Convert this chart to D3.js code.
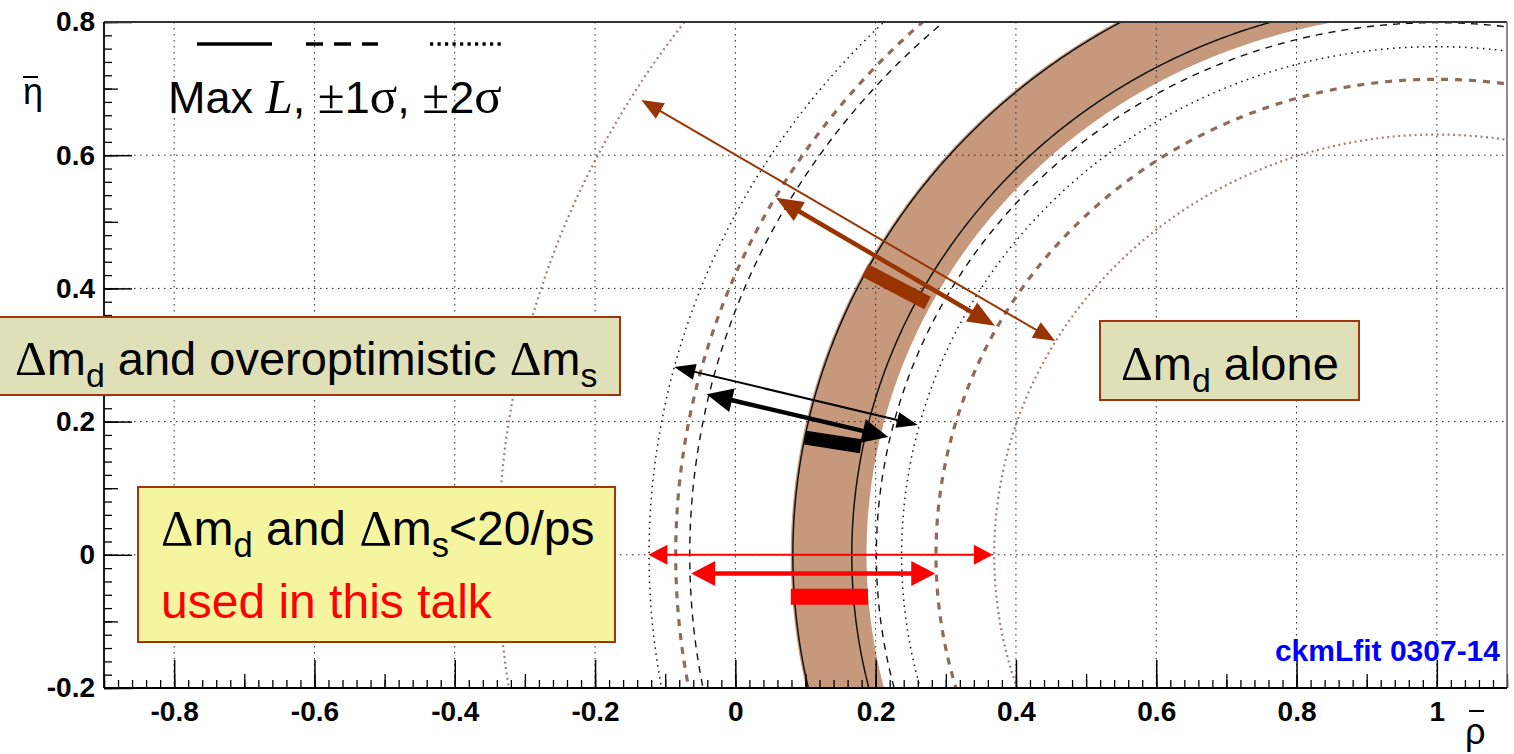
<!DOCTYPE html>
<html>
<head>
<meta charset="utf-8">
<script src="https://cdn.jsdelivr.net/npm/d3@7"></script>
<style>
  html, body { margin: 0; padding: 0; background: #fff; }
  svg { display: block; }
  text { font-family: "Liberation Sans", Arial, Helvetica, sans-serif; }
</style>
</head>
<body>
<svg id="chart" width="1514" height="754"></svg>
<script>
// ---- axis ticks -----------------------------------------------------------
const xMajor = [-0.8, -0.6, -0.4, -0.2, 0, 0.2, 0.4, 0.6, 0.8, 1.0];
const xTickLabels = ["-0.8", "-0.6", "-0.4", "-0.2", "0", "0.2", "0.4", "0.6", "0.8", "1"];
const yMajor = [-0.2, 0, 0.2, 0.4, 0.6, 0.8];
const yTickLabels = ["-0.2", "0", "0.2", "0.4", "0.6", "0.8"];

// ---- |Vtd| contours: radii of circles centred on (rho, eta) = (1, 0) -------
const contourCentre = [1, 0];
const dmdAloneDashed = [0.714, 1.085];   // Δm_d alone, ±1σ
const dmdAloneDotted = [0.631, 1.338];   // Δm_d alone, ±2σ
const overoptSolid   = [0.834, 0.918];   // Δm_d + overoptimistic Δm_s
const overoptDashed  = [0.799, 1.065];
const overoptDotted  = [0.763, 1.123];
const bandRadii      = [0.813, 0.921];   // shaded band

// ---- double arrows and bars, [[rho, eta], [rho, eta]] --------------------
const brownSpans = [
  [[-0.134, 0.683], [0.456, 0.321]],     // ±2σ
  [[0.058, 0.536], [0.370, 0.344]]       // ±1σ
];
const brownBar = [[0.185, 0.427], [0.274, 0.378]];
const blackSpans = [
  [[-0.087, 0.282], [0.260, 0.195]],
  [[-0.041, 0.241], [0.218, 0.177]]
];
const blackBar = [[0.0996, 0.176], [0.179, 0.163]];
const redSpans = [
  [[-0.124, 0.0], [0.367, 0.0]],
  [[-0.063, -0.028], [0.285, -0.028]]
];
const redBar = [[0.079, -0.063], [0.189, -0.063]];

// ---- layout ---------------------------------------------------------------
const svg = d3.select("#chart");
const L = 104, R = 1507, T = 22, B = 688;
const x = d3.scaleLinear([-0.9, 1.1], [L, R]);
const y = d3.scaleLinear([-0.2, 0.8], [B, T]);
const serif = "'Liberation Serif', 'Times New Roman', serif";

svg.append("rect").attr("width", 1514).attr("height", 754).attr("fill", "#fff");

svg.append("clipPath").attr("id", "plotClip")
  .append("rect").attr("x", L).attr("y", T).attr("width", R - L).attr("height", B - T);

const plot = svg.append("g").attr("clip-path", "url(#plotClip)");

// points along a circle of radius r around the contour centre
function circlePoints(r, reverse) {
  const angles = d3.range(-0.35, Math.PI + 0.0001, 0.004);
  const pts = angles.map(a => [contourCentre[0] - r * Math.cos(a), contourCentre[1] + r * Math.sin(a)]);
  return reverse ? pts.reverse() : pts;
}
const line = d3.line().x(d => x(d[0])).y(d => y(d[1]));

// shaded band
plot.append("path")
  .attr("d", line(circlePoints(bandRadii[1], false)) + "L" +
             line(circlePoints(bandRadii[0], true)).slice(1) + "Z")
  .attr("fill", "#c6997d");

// grid
const gridG = plot.append("g").attr("stroke", "#222").attr("stroke-width", 1)
  .attr("stroke-dasharray", "1.5,4.5");
gridG.selectAll("line.v").data(xMajor).join("line").attr("class", "v")
  .attr("x1", d => x(d)).attr("x2", d => x(d)).attr("y1", T).attr("y2", B);
gridG.selectAll("line.h").data(yMajor).join("line").attr("class", "h")
  .attr("x1", L).attr("x2", R).attr("y1", d => y(d)).attr("y2", d => y(d));

// contour lines
function drawContours(radii, stroke, width, dash) {
  plot.append("g").selectAll("path").data(radii).join("path")
    .attr("d", r => line(circlePoints(r, false)))
    .attr("fill", "none")
    .attr("stroke", stroke)
    .attr("stroke-width", width)
    .attr("stroke-dasharray", dash);
}
drawContours(dmdAloneDotted, "#a4806f", 2.2, "2,3.5");
drawContours(dmdAloneDashed, "#8e6b5b", 3.2, "7,7");
drawContours(overoptDotted, "#111", 1.5, "1.5,4.5");
drawContours(overoptDashed, "#111", 1.4, "7,6");
drawContours(overoptSolid, "#111", 1.5, null);

// ---- axes -----------------------------------------------------------------
const axisFont = "bold 28px 'Liberation Sans', Arial, sans-serif";
const xMinor = d3.range(-0.9, 1.1001, 0.02).map(v => +v.toFixed(2));
const xMid = d3.range(-0.9, 1.1001, 0.1).map(v => +v.toFixed(2));
const yMinor = d3.range(-0.2, 0.8001, 0.02).map(v => +v.toFixed(2));
const yMid = d3.range(-0.2, 0.8001, 0.1).map(v => +v.toFixed(2));

function tickAxis(axisFn, scale, values, size, translate) {
  svg.append("g").attr("transform", translate)
    .call(axisFn(scale).tickValues(values).tickSize(-size).tickFormat(""))
    .call(g => g.select(".domain").remove())
    .selectAll("line").attr("stroke", "#000").attr("stroke-width", 1.3);
}
tickAxis(d3.axisBottom, x, xMinor, 8, `translate(0,${B})`);
tickAxis(d3.axisBottom, x, xMid, 14, `translate(0,${B})`);
tickAxis(d3.axisLeft, y, yMinor, 8, `translate(${L},0)`);
tickAxis(d3.axisLeft, y, yMid, 14, `translate(${L},0)`);

const xAxis = svg.append("g").attr("transform", `translate(0,${B})`)
  .call(d3.axisBottom(x).tickValues(xMajor).tickSize(-28).tickPadding(13)
    .tickFormat((d, i) => xTickLabels[i]));
xAxis.select(".domain").remove();
xAxis.selectAll("line").attr("stroke", "#000").attr("stroke-width", 1.5);
xAxis.selectAll("text").style("font", axisFont).attr("fill", "#000");

const yAxis = svg.append("g").attr("transform", `translate(${L},0)`)
  .call(d3.axisLeft(y).tickValues(yMajor).tickSize(-28).tickPadding(9)
    .tickFormat((d, i) => yTickLabels[i]));
yAxis.select(".domain").remove();
yAxis.selectAll("line").attr("stroke", "#000").attr("stroke-width", 1.5);
yAxis.selectAll("text").style("font", axisFont).attr("fill", "#000");

// frame
svg.append("line").attr("x1", L).attr("x2", R).attr("y1", T).attr("y2", T)
  .attr("stroke", "#333").attr("stroke-width", 1.8);
svg.append("line").attr("x1", R).attr("x2", R).attr("y1", T).attr("y2", B)
  .attr("stroke", "#666").attr("stroke-width", 1.5);
svg.append("line").attr("x1", L).attr("x2", L).attr("y1", T).attr("y2", B)
  .attr("stroke", "#000").attr("stroke-width", 1.8);
svg.append("line").attr("x1", L).attr("x2", R).attr("y1", B).attr("y2", B)
  .attr("stroke", "#000").attr("stroke-width", 1.8);

// axis titles with overbars
svg.append("text").attr("x", 23).attr("y", 104).attr("font-size", 36).text("η");
svg.append("line").attr("x1", 23).attr("x2", 38).attr("y1", 77).attr("y2", 77)
  .attr("stroke", "#000").attr("stroke-width", 2);
svg.append("text").attr("x", 1465).attr("y", 744).attr("font-size", 36).text("ρ");
svg.append("line").attr("x1", 1469).attr("x2", 1484).attr("y1", 711).attr("y2", 711)
  .attr("stroke", "#000").attr("stroke-width", 2);

// ---- arrows ---------------------------------------------------------------
function doubleArrow(span, color, width, headLen, headWid) {
  const p0 = [x(span[0][0]), y(span[0][1])];
  const p1 = [x(span[1][0]), y(span[1][1])];
  const dx = p1[0] - p0[0], dy = p1[1] - p0[1];
  const len = Math.hypot(dx, dy);
  const ux = dx / len, uy = dy / len, nx = -uy, ny = ux;
  const g = svg.append("g");
  g.append("line")
    .attr("x1", p0[0] + ux * headLen * 0.8).attr("y1", p0[1] + uy * headLen * 0.8)
    .attr("x2", p1[0] - ux * headLen * 0.8).attr("y2", p1[1] - uy * headLen * 0.8)
    .attr("stroke", color).attr("stroke-width", width);
  const head = (tip, s) => {
    const bx = tip[0] + s * ux * headLen, by = tip[1] + s * uy * headLen;
    return [[tip[0], tip[1]], [bx + nx * headWid / 2, by + ny * headWid / 2],
            [bx - nx * headWid / 2, by - ny * headWid / 2]];
  };
  g.selectAll("polygon").data([head(p0, 1), head(p1, -1)]).join("polygon")
    .attr("points", d => d.map(p => p.join(",")).join(" "))
    .attr("fill", color);
}
function bar(seg, color, width) {
  svg.append("line")
    .attr("x1", x(seg[0][0])).attr("y1", y(seg[0][1]))
    .attr("x2", x(seg[1][0])).attr("y2", y(seg[1][1]))
    .attr("stroke", color).attr("stroke-width", width);
}
const brown = "#993300";
doubleArrow(brownSpans[0], brown, 2, 22, 18);
doubleArrow(brownSpans[1], brown, 4.5, 27, 22);
bar(brownBar, brown, 14);
doubleArrow(blackSpans[0], "#000", 2, 21, 16);
doubleArrow(blackSpans[1], "#000", 4.5, 26, 24);
bar(blackBar, "#000", 14);
doubleArrow(redSpans[0], "#ff0000", 2, 19, 20);
doubleArrow(redSpans[1], "#ff0000", 4.5, 24, 25);
bar(redBar, "#ff0000", 16);

// ---- legend ---------------------------------------------------------------
const legendStyles = [null, "17,11", "3.2,4.3"];
const legendX = [[197, 272], [306, 378], [430, 505]];
svg.append("g").selectAll("line").data(legendStyles).join("line")
  .attr("x1", (d, i) => legendX[i][0]).attr("x2", (d, i) => legendX[i][1])
  .attr("y1", 44).attr("y2", 44)
  .attr("stroke", "#000").attr("stroke-width", 3.5)
  .attr("stroke-dasharray", d => d);

const leg = svg.append("text").attr("x", 168).attr("y", 113).attr("font-size", 45);
leg.append("tspan").text("Max ");
leg.append("tspan").attr("font-family", serif).attr("font-style", "italic")
  .attr("font-size", 49).text("L");
leg.append("tspan").text(", ");
leg.append("tspan").attr("font-family", serif).attr("font-size", 49).text("±");
leg.append("tspan").text("1");
leg.append("tspan").attr("font-family", serif).attr("font-size", 51).text("σ");
leg.append("tspan").text(", ");
leg.append("tspan").attr("font-family", serif).attr("font-size", 49).text("±");
leg.append("tspan").text("2");
leg.append("tspan").attr("font-family", serif).attr("font-size", 51).text("σ");

// ---- labelled boxes -------------------------------------------------------
function box(x0, y0, w, h, fill) {
  svg.append("rect").attr("x", x0).attr("y", y0).attr("width", w).attr("height", h)
    .attr("fill", fill).attr("stroke", "#a0360a").attr("stroke-width", 2);
}
// text pieces: [string, kind] with kind "n" normal, "s" subscript, "g" serif Δ
function richText(x0, y0, size, parts, color) {
  const t = svg.append("text").attr("x", x0).attr("y", y0).attr("font-size", size)
    .attr("fill", color || "#000");
  let lowered = false;
  parts.forEach(([s, kind]) => {
    const sp = t.append("tspan").text(s);
    if (kind === "s") {
      sp.attr("font-size", size * 0.72).attr("dy", size * 0.26);
      lowered = true;
    } else {
      if (lowered) { sp.attr("dy", -size * 0.26); lowered = false; }
      if (kind === "g") sp.attr("font-family", serif).attr("font-size", size * 1.05);
    }
  });
  return t;
}

box(-2, 317, 622, 78, "#e0e0b8");
richText(15, 375, 47, [["Δ", "g"], ["m", "n"], ["d", "s"], [" and overoptimistic ", "n"],
  ["Δ", "g"], ["m", "n"], ["s", "s"]]);

box(1100, 321, 259, 79, "#e0e0b8");
richText(1121, 380, 47, [["Δ", "g"], ["m", "n"], ["d", "s"], [" alone", "n"]]);

box(138, 487, 477, 155, "#f5f5a0");
richText(161, 545, 48, [["Δ", "g"], ["m", "n"], ["d", "s"], [" and ", "n"], ["Δ", "g"],
  ["m", "n"], ["s", "s"], ["<20/ps", "n"]]);
richText(161, 618, 48, [["used in this talk", "n"]], "#ff0000");

// ---- tag ------------------------------------------------------------------
svg.append("text").attr("x", 1500).attr("y", 661).attr("text-anchor", "end")
  .attr("font-size", 30).attr("font-weight", "bold").attr("fill", "#0000ff")
  .text("ckmLfit 0307-14");
</script>
</body>
</html>
